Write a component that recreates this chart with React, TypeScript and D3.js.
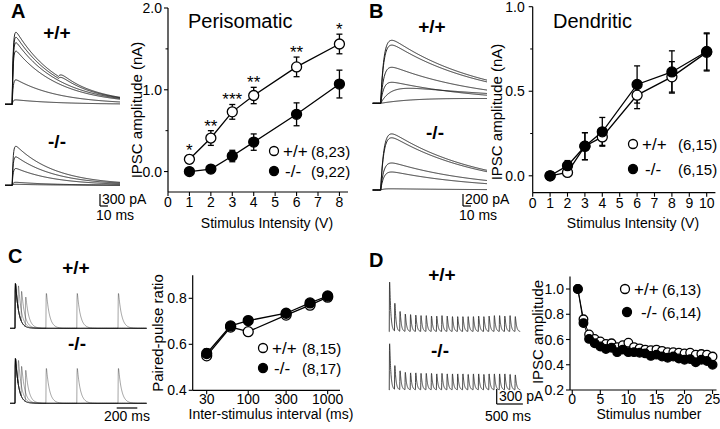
import React from "react";
import * as d3 from "d3";

const FONT = '"Liberation Sans", Arial, Helvetica, sans-serif';

// ---------- Panel A: perisomatic IPSC amplitude ----------
const stimA = [1, 2, 3, 4, 6, 8];
const periWT = [0.15, 0.41, 0.73, 0.93, 1.28, 1.56];
const periWTErr = [0.05, 0.09, 0.09, 0.1, 0.12, 0.12];
const periKO = [0.0, 0.03, 0.19, 0.36, 0.7, 1.07];
const periKOErr = [0.0, 0.0, 0.07, 0.1, 0.14, 0.17];
const periStars = ["*", "**", "***", "**", "**", "*"];
const xTicksA = [0, 1, 2, 3, 4, 5, 6, 7, 8];
const yTicksA = [0, 1, 2];
const yMinorA = [0.5, 1.5];

// ---------- Panel B: dendritic IPSC amplitude ----------
const stimB = [1, 2, 3, 4, 6, 8, 10];
const dendWT = [0.0, 0.02, 0.175, 0.23, 0.477, 0.585, 0.73];
const dendWTErr = [0, 0.02, 0.08, 0.05, 0.08, 0.09, 0.11];
const dendKO = [0.0, 0.06, 0.175, 0.26, 0.54, 0.614, 0.735];
const dendKOErr = [0, 0.03, 0.08, 0.085, 0.11, 0.125, 0.11];
const xTicksB = [0, 1, 2, 3, 4, 5, 6, 7, 8, 9, 10];
const yTicksB = [0, 0.5, 1];
const yMinorB = [0.25, 0.75];

// ---------- Panel C: paired-pulse ratio ----------
const isiC = [30, 60, 100, 300, 600, 1000];
const pprWT = [0.55, 0.675, 0.655, 0.727, 0.77, 0.805];
const pprWTErr = [0.015, 0.01, 0.008, 0.01, 0.01, 0.01];
const pprKO = [0.56, 0.68, 0.703, 0.735, 0.78, 0.81];
const pprKOErr = [0.02, 0.015, 0.018, 0.01, 0.01, 0.01];
const xTicksC = [30, 100, 300, 1000];
const yTicksC = [0.4, 0.6, 0.8];

// ---------- Panel D: train depression ----------
const stimNum = [1, 2, 3, 4, 5, 6, 7, 8, 9, 10, 11, 12, 13, 14, 15, 16, 17, 18, 19, 20, 21, 22, 23, 24, 25];
const trainWT = [1.0, 0.76, 0.64, 0.605, 0.585, 0.565, 0.57, 0.54, 0.555, 0.575, 0.54, 0.53, 0.52, 0.515, 0.52, 0.51, 0.5, 0.5, 0.495, 0.49, 0.495, 0.48, 0.485, 0.48, 0.465];
const trainKO = [1.0, 0.73, 0.605, 0.57, 0.545, 0.525, 0.535, 0.5, 0.52, 0.5, 0.5, 0.495, 0.49, 0.47, 0.48, 0.465, 0.455, 0.465, 0.45, 0.44, 0.445, 0.42, 0.44, 0.43, 0.4];
const xTicksD = [0, 5, 10, 15, 20, 25];
const yTicksD = [0.2, 0.4, 0.6, 0.8, 1.0];

// ---------- Example traces (peak amplitudes, pA) ----------
const traceA_WT = [1800, 1675, 1540, 1330, 610, 110];
const traceA_WTbump = [90, 70, 0, 0, 0, 0];
const traceA_KO = [975, 710, 420, 75, 25];
const traceB_WT = [1050, 970, 600, 350, 250, 80];
const traceB_WTrise = [4, 4, 4, 4, 12, 45];
const traceB_WTdecay = [115, 115, 115, 120, 200, 500];
const traceB_KO = [935, 870, 450, 300, 20];
const traceC_first = 900;
const traceC_WTratio = [0.55, 0.68, 0.66, 0.78, 0.78, 0.78];
const traceC_KOratio = [0.56, 0.68, 0.7, 0.78, 0.78, 0.78];
const traceD_WT = [1000, 560, 400, 350, 340, 330, 320, 320, 310, 310, 320, 310, 300, 300, 300, 300, 300, 310, 300, 310, 320, 320, 310, 320, 300];
const traceD_KO = [930, 480, 380, 350, 340, 340, 330, 330, 330, 320, 330, 320, 320, 320, 320, 310, 320, 320, 310, 320, 320, 320, 320, 310, 300];

function psc(t: number, amp: number, tr: number, td: number) {
  if (t <= 0) return 0;
  const tp = ((tr * td) / (td - tr)) * Math.log(td / tr);
  const norm = Math.exp(-tp / td) - Math.exp(-tp / tr);
  return (amp * (Math.exp(-t / td) - Math.exp(-t / tr))) / norm;
}

const S = "#000";

function Axes(props: {
  sx: any; sy: any; xTicks: number[]; xMinor?: number[]; yTicks: number[]; yMinor?: number[];
  xFmt: (v: number) => string; yFmt: (v: number) => string; xLabDy?: number; yLabGap?: number;
}) {
  const { sx, sy, xTicks, xMinor = [], yTicks, yMinor = [], xFmt, yFmt, xLabDy = 15, yLabGap = 6 } = props;
  const [xa, xb] = sx.range();
  const [ya, yb] = sy.range();
  return (
    <g>
      <line x1={xa} x2={xb} y1={ya} y2={ya} stroke={S} strokeWidth={1.2} />
      <line x1={xa} x2={xa} y1={ya} y2={yb} stroke={S} strokeWidth={1.2} />
      {xTicks.map((t) => (
        <g key={"x" + t}>
          <line x1={sx(t)} x2={sx(t)} y1={ya} y2={ya + 4} stroke={S} strokeWidth={1.1} />
          <text x={sx(t)} y={ya + xLabDy} textAnchor="middle" fontSize={14}>{xFmt(t)}</text>
        </g>
      ))}
      {xMinor.map((t) => (
        <line key={"xm" + t} x1={sx(t)} x2={sx(t)} y1={ya} y2={ya + 2.5} stroke={S} strokeWidth={1} />
      ))}
      {yTicks.map((t) => (
        <g key={"y" + t}>
          <line x1={xa - 4} x2={xa} y1={sy(t)} y2={sy(t)} stroke={S} strokeWidth={1.1} />
          <text x={xa - yLabGap} y={sy(t)} dy="0.36em" textAnchor="end" fontSize={14}>{yFmt(t)}</text>
        </g>
      ))}
      {yMinor.map((t) => (
        <line key={"ym" + t} x1={xa - 2.5} x2={xa} y1={sy(t)} y2={sy(t)} stroke={S} strokeWidth={1} />
      ))}
    </g>
  );
}

function SeriesLine({ xs, ys, sx, sy, w = 1.3 }: any) {
  const line = d3.line<number>().x((_, i) => sx(xs[i])).y((d) => sy(d));
  return <path d={line(ys) || ""} fill="none" stroke={S} strokeWidth={w} />;
}

function ErrBars({ xs, ys, errs, sx, sy, cap = 3 }: any) {
  return (
    <g>
      {ys.map((v: number, i: number) =>
        errs[i] > 0 ? (
          <g key={i} stroke={S} strokeWidth={1.3}>
            <line x1={sx(xs[i])} x2={sx(xs[i])} y1={sy(v - errs[i])} y2={sy(v + errs[i])} />
            <line x1={sx(xs[i]) - cap} x2={sx(xs[i]) + cap} y1={sy(v + errs[i])} y2={sy(v + errs[i])} />
            <line x1={sx(xs[i]) - cap} x2={sx(xs[i]) + cap} y1={sy(v - errs[i])} y2={sy(v - errs[i])} />
          </g>
        ) : null
      )}
    </g>
  );
}

function Markers({ xs, ys, sx, sy, filled, r = 5 }: any) {
  return (
    <g>
      {ys.map((v: number, i: number) => (
        <circle key={i} cx={sx(xs[i])} cy={sy(v)} r={r} fill={filled ? S : "#fff"} stroke={S} strokeWidth={1.3} />
      ))}
    </g>
  );
}

function Legend({ x, y1, y2, lab1, lab2, n1, n2, nx, r = 4.5, x2off = 3, markerX2 = 0 }: any) {
  return (
    <g>
      <circle cx={x} cy={y1} r={r} fill="#fff" stroke={S} strokeWidth={1.3} />
      <circle cx={x + markerX2} cy={y2} r={r} fill={S} stroke={S} strokeWidth={1.3} />
      <text y={y1 + 5.5} fontSize={17}>
        <tspan x={x + 9}>{lab1}</tspan>
        <tspan x={nx} fontSize={15}>{n1}</tspan>
      </text>
      <text y={y2 + 5.5} fontSize={17}>
        <tspan x={x + 9 + x2off}>{lab2}</tspan>
        <tspan x={nx} fontSize={15}>{n2}</tspan>
      </text>
    </g>
  );
}

function YLabel({ x, y, text, size = 14 }: any) {
  return (
    <text transform={`translate(${x},${y}) rotate(-90)`} textAnchor="middle" dy="0.35em" fontSize={size}>
      {text}
    </text>
  );
}

const f1 = (v: number) => v.toFixed(1);
const f0 = (v: number) => String(v);

export default function App() {
  // ---- scales for plots ----
  const sxA = d3.scaleLinear().domain([0, 8.4]).range([168, 348]);
  const syA = d3.scaleLinear().domain([-0.25, 2.0]).range([192, 8]);
  const sxB = d3.scaleLinear().domain([0, 10.5]).range([532.7, 715.4]);
  const syB = d3.scaleLinear().domain([-0.1, 1.0]).range([192.7, 6.7]);
  const sxC = d3.scaleLog().domain([20, 1430]).range([192.7, 340]);
  const syC = d3.scaleLinear().domain([0.4, 0.9]).range([390.3, 275.3]);
  const sxD = d3.scaleLinear().domain([-0.4, 25.7]).range([570, 716.5]);
  const syD = d3.scaleLinear().domain([0.2, 1.1]).range([390, 276.4]);

  const lineXY = d3.line<[number, number]>().x((d) => d[0]).y((d) => d[1]);

  // A traces
  const tA = d3.range(-9, 135.01, 0.5);
  const sxTA = d3.scaleLinear().domain([-9, 135]).range([5, 120]);
  const syTA_WT = d3.scaleLinear().domain([0, 1000]).range([104.3, 64.3]);
  const syTA_KO = d3.scaleLinear().domain([0, 1000]).range([185.3, 145.3]);
  const pathsA_WT = traceA_WT.map((a, k) =>
    lineXY(tA.map((t) => [sxTA(t), syTA_WT(psc(t, a, 1.2, 55) + psc(t - 58, traceA_WTbump[k], 3, 20))]))
  );
  const pathsA_KO = traceA_KO.map((a) => lineXY(tA.map((t) => [sxTA(t), syTA_KO(psc(t, a, 1.2, 50))])));

  // B traces
  const tB = d3.range(-10, 133.01, 0.5);
  const sxTB = d3.scaleLinear().domain([-10, 133]).range([372.7, 487]);
  const syTB_WT = d3.scaleLinear().domain([0, 1000]).range([103.3, 43.3]);
  const syTB_KO = d3.scaleLinear().domain([0, 1000]).range([190, 130]);
  const pathsB_WT = traceB_WT.map((a, k) =>
    lineXY(tB.map((t) => [sxTB(t), syTB_WT(psc(t, a, traceB_WTrise[k], traceB_WTdecay[k]))]))
  );
  const pathsB_KO = traceB_KO.map((a) => lineXY(tB.map((t) => [sxTB(t), syTB_KO(psc(t, a, 4, 110))])));

  // C traces
  const tC = d3.range(-48, 1280, 2);
  const sxTC = d3.scaleLinear().domain([0, 1000]).range([15, 118]);
  const syTC_WT = d3.scaleLinear().domain([0, 900]).range([328.3, 283.3]);
  const syTC_KO = d3.scaleLinear().domain([0, 900]).range([403.3, 358.3]);
  const mkC = (ratio: number[], sy: any) =>
    isiC.map((isi, k) =>
      lineXY(
        tC.map((t) => [
          sxTC(t),
          sy(psc(t, traceC_first, 1.5, 30) + psc(t - isi, traceC_first * ratio[k], 1.5, 30)),
        ])
      )
    );
  const pathsC_WT = mkC(traceC_WTratio, syTC_WT);
  const pathsC_KO = mkC(traceC_KOratio, syTC_KO);

  // D traces
  const tD = d3.range(-5, 2500, 2);
  const sxTD = d3.scaleLinear().domain([0, 2400]).range([389.3, 515]);
  const syTD_WT = d3.scaleLinear().domain([0, 1000]).range([331.7, 281.7]);
  const syTD_KO = d3.scaleLinear().domain([0, 1000]).range([390, 340]);
  const mkD = (amps: number[], sy: any) =>
    lineXY(
      tD.map((t) => {
        let v = 0;
        amps.forEach((a, k) => (v += psc(t - k * 100, a, 2.5, 22)));
        return [sxTD(t), sy(v)];
      })
    );
  const pathD_WT = mkD(traceD_WT, syTD_WT);
  const pathD_KO = mkD(traceD_KO, syTD_KO);

  const big = { fontSize: 19, fontWeight: "bold" as const };
  const barA = syTA_KO(0) - syTA_KO(300);
  const barB = syTB_KO(0) - syTB_KO(200);
  const barD = syTD_KO(0) - syTD_KO(300);

  return (
    <svg
      width={720}
      height={429}
      style={{ position: "absolute", left: 0, top: 0, background: "#fff" }}
      fontFamily={FONT}
    >
      <rect width={720} height={429} fill="#fff" />

      {/* ===== Panel A ===== */}
      <text x={11} y={18} fontSize={20} fontWeight="bold">A</text>
      <text x={57} y={39} textAnchor="middle" {...big}>+/+</text>
      <text x={57} y={148} textAnchor="middle" {...big}>-/-</text>
      <g fill="none" stroke="#111" strokeWidth={0.9}>
        {pathsA_WT.map((p, i) => <path key={i} d={p || ""} />)}
        {pathsA_KO.map((p, i) => <path key={i} d={p || ""} />)}
      </g>
      <g stroke={S} strokeWidth={1.2}>
        <line x1={100} x2={100} y1={194} y2={194 + barA} />
        <line x1={100} x2={100 + sxTA(10) - sxTA(0)} y1={194 + barA} y2={194 + barA} />
      </g>
      <text x={102} y={204} fontSize={14}>300 pA</text>
      <text x={96} y={220} fontSize={14}>10 ms</text>

      <Axes sx={sxA} sy={syA} xTicks={xTicksA} yTicks={yTicksA} yMinor={yMinorA} xFmt={f0} yFmt={f1} />
      <text x={188} y={28} fontSize={20}>Perisomatic</text>
      <SeriesLine xs={stimA} ys={periWT} sx={sxA} sy={syA} />
      <SeriesLine xs={stimA} ys={periKO} sx={sxA} sy={syA} />
      <ErrBars xs={stimA} ys={periWT} errs={periWTErr} sx={sxA} sy={syA} />
      <ErrBars xs={stimA} ys={periKO} errs={periKOErr} sx={sxA} sy={syA} />
      <Markers xs={stimA} ys={periWT} sx={sxA} sy={syA} filled={false} />
      <Markers xs={stimA} ys={periKO} sx={sxA} sy={syA} filled={true} />
      {periStars.map((s, i) => (
        <text key={i} x={sxA(stimA[i])} y={syA(periWT[i] + periWTErr[i]) + 1} textAnchor="middle" fontSize={17}>{s}</text>
      ))}
      <Legend x={274} y1={151} y2={171} lab1="+/+" lab2="-/-" n1="(8,23)" n2="(9,22)" nx={311} x2off={2} />
      <YLabel x={137} y={110} text="IPSC amplitude (nA)" size={15} />
      <text x={267} y={228} textAnchor="middle" fontSize={14}>Stimulus Intensity (V)</text>

      {/* ===== Panel B ===== */}
      <text x={369} y={18} fontSize={20} fontWeight="bold">B</text>
      <text x={432} y={33} textAnchor="middle" {...big}>+/+</text>
      <text x={435} y={139} textAnchor="middle" {...big}>-/-</text>
      <g fill="none" stroke="#111" strokeWidth={0.9}>
        {pathsB_WT.map((p, i) => <path key={i} d={p || ""} />)}
        {pathsB_KO.map((p, i) => <path key={i} d={p || ""} />)}
      </g>
      <g stroke={S} strokeWidth={1.2}>
        <line x1={463} x2={463} y1={194} y2={194 + barB} />
        <line x1={463} x2={463 + sxTB(10) - sxTB(0)} y1={194 + barB} y2={194 + barB} />
      </g>
      <text x={465} y={204} fontSize={14}>200 pA</text>
      <text x={459} y={220} fontSize={14}>10 ms</text>

      <Axes sx={sxB} sy={syB} xTicks={xTicksB} yTicks={yTicksB} yMinor={yMinorB} xFmt={f0} yFmt={f1} yLabGap={8} />
      <text x={553} y={28} fontSize={20}>Dendritic</text>
      <SeriesLine xs={stimB} ys={dendWT} sx={sxB} sy={syB} />
      <SeriesLine xs={stimB} ys={dendKO} sx={sxB} sy={syB} />
      <ErrBars xs={stimB} ys={dendWT} errs={dendWTErr} sx={sxB} sy={syB} />
      <ErrBars xs={stimB} ys={dendKO} errs={dendKOErr} sx={sxB} sy={syB} />
      <Markers xs={stimB} ys={dendWT} sx={sxB} sy={syB} filled={false} />
      <Markers xs={stimB} ys={dendKO} sx={sxB} sy={syB} filled={true} />
      <Legend x={633} y1={144} y2={169} lab1="+/+" lab2="-/-" n1="(6,15)" n2="(6,15)" nx={678} x2off={3} />
      <YLabel x={497} y={112} text="IPSC amplitude (nA)" size={15} />
      <text x={633} y={228} textAnchor="middle" fontSize={14}>Stimulus Intensity (V)</text>

      {/* ===== Panel C ===== */}
      <text x={8} y={263} fontSize={20} fontWeight="bold">C</text>
      <text x={76} y={274} textAnchor="middle" {...big}>+/+</text>
      <text x={77} y={350} textAnchor="middle" {...big}>-/-</text>
      <g fill="none" stroke="#000" strokeOpacity={0.4} strokeWidth={0.9}>
        {pathsC_WT.map((p, i) => <path key={i} d={p || ""} />)}
        {pathsC_KO.map((p, i) => <path key={i} d={p || ""} />)}
      </g>
      <line x1={116.7} x2={116.7 + sxTC(200) - sxTC(0)} y1={408} y2={408} stroke={S} strokeWidth={1.2} />
      <text x={127} y={421} textAnchor="middle" fontSize={14}>200 ms</text>

      <Axes sx={sxC} sy={syC} xTicks={xTicksC} yTicks={yTicksC} xFmt={f0} yFmt={f1} xLabDy={14} />
      <SeriesLine xs={isiC} ys={pprWT} sx={sxC} sy={syC} />
      <SeriesLine xs={isiC} ys={pprKO} sx={sxC} sy={syC} />
      <ErrBars xs={isiC} ys={pprWT} errs={pprWTErr} sx={sxC} sy={syC} />
      <ErrBars xs={isiC} ys={pprKO} errs={pprKOErr} sx={sxC} sy={syC} />
      <Markers xs={isiC} ys={pprWT} sx={sxC} sy={syC} filled={false} />
      <Markers xs={isiC} ys={pprKO} sx={sxC} sy={syC} filled={true} />
      <Legend x={263} y1={348} y2={368} lab1="+/+" lab2="-/-" n1="(8,15)" n2="(8,17)" nx={302} x2off={2} />
      <YLabel x={158} y={333} text="Paired-pulse ratio" size={15} />
      <text x={271} y={419} textAnchor="middle" fontSize={14}>Inter-stimulus interval (ms)</text>

      {/* ===== Panel D ===== */}
      <text x={369} y={267} fontSize={20} fontWeight="bold">D</text>
      <text x={442} y={281} textAnchor="middle" {...big}>+/+</text>
      <text x={440} y={357} textAnchor="middle" {...big}>-/-</text>
      <g fill="none" stroke="#333" strokeWidth={0.9}>
        <path d={pathD_WT || ""} />
        <path d={pathD_KO || ""} />
      </g>
      <g stroke={S} strokeWidth={1.2}>
        <line x1={496.7} x2={496.7} y1={389} y2={389 + barD} />
        <line x1={496.7} x2={496.7 + sxTD(500) - sxTD(0)} y1={389 + barD} y2={389 + barD} />
      </g>
      <text x={499} y={401} fontSize={14}>300 pA</text>
      <text x={508} y={421} textAnchor="middle" fontSize={14}>500 ms</text>

      <Axes sx={sxD} sy={syD} xTicks={xTicksD} yTicks={yTicksD} xFmt={f0} yFmt={f1} xLabDy={14} />
      <SeriesLine xs={stimNum} ys={trainWT} sx={sxD} sy={syD} w={1} />
      <SeriesLine xs={stimNum} ys={trainKO} sx={sxD} sy={syD} w={1} />
      <Markers xs={stimNum} ys={trainWT} sx={sxD} sy={syD} filled={false} r={4.3} />
      <Markers xs={stimNum} ys={trainKO} sx={sxD} sy={syD} filled={true} r={4.3} />
      <Legend x={625} y1={289} y2={312} lab1="+/+" lab2="-/-" n1="(6,13)" n2="(6,14)" nx={662} x2off={7} markerX2={2} />
      <YLabel x={538} y={332} text="IPSC amplitude" size={15} />
      <text x={649} y={419} textAnchor="middle" fontSize={14}>Stimulus number</text>
    </svg>
  );
}
